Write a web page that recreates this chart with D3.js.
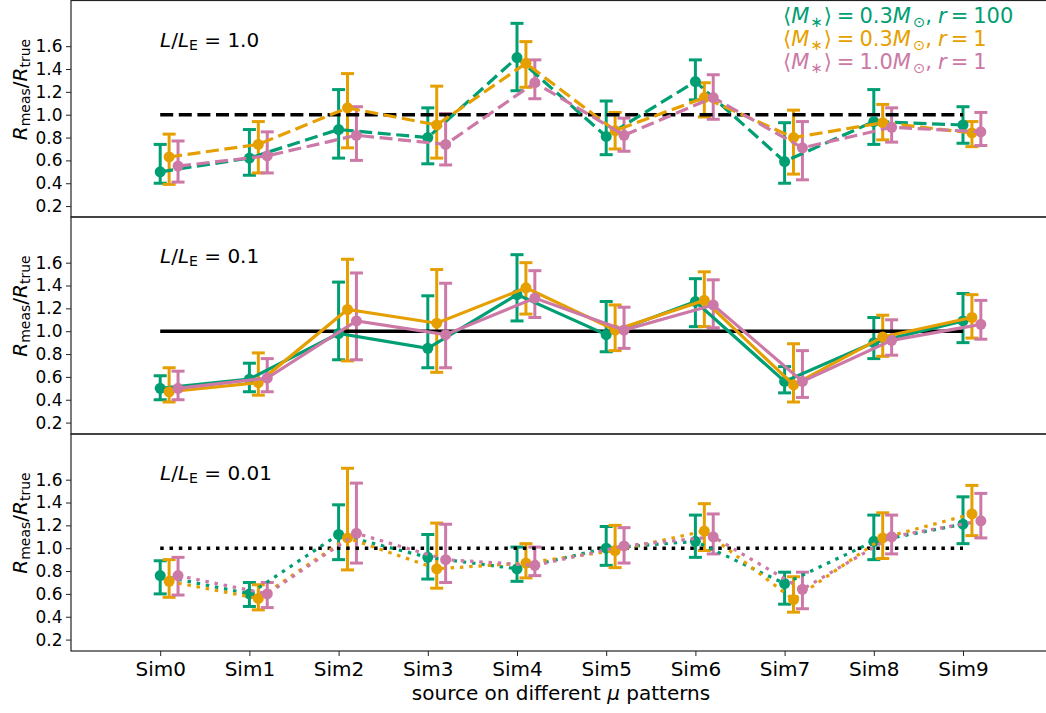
<!DOCTYPE html>
<html><head><meta charset="utf-8">
<script src="https://cdn.jsdelivr.net/npm/d3@7"></script>
<style>body{margin:0;background:#fff} svg{display:block;font-family:"DejaVu Sans",sans-serif}</style>
</head><body>
<svg id="c" width="1046" height="713"></svg>
<script>
// ---------- data ----------
const categories = ["Sim0","Sim1","Sim2","Sim3","Sim4","Sim5","Sim6","Sim7","Sim8","Sim9"];
const yTicks = [0.2,0.4,0.6,0.8,1.0,1.2,1.4,1.6];
const panelRatios = ["1.0","0.1","0.01"];
const seriesMass = ["0.3","0.3","1.0"];
const seriesR = ["100","1","1"];
const seriesColors = ["#009E73","#E69F00","#CC79A7"];
const seriesOffsets = [0, 0.1, 0.2];
const lineStyles = ["dashed","solid","dotted"];

// L/LE = 1.0
const val10_g = [0.50,0.62,0.87,0.80,1.50,0.81,1.29,0.59,0.94,0.91];
const hi10_g  = [0.74,0.87,1.22,1.06,1.80,1.12,1.48,0.93,1.22,1.07];
const lo10_g  = [0.40,0.47,0.62,0.57,1.21,0.65,1.13,0.40,0.74,0.75];
const val10_o = [0.63,0.74,1.06,0.91,1.45,0.86,1.15,0.80,0.93,0.84];
const hi10_o  = [0.83,0.94,1.36,1.25,1.64,1.02,1.28,1.04,1.09,0.94];
const lo10_o  = [0.39,0.49,0.71,0.62,1.24,0.70,0.98,0.48,0.78,0.72];
const val10_p = [0.55,0.64,0.82,0.74,1.28,0.82,1.15,0.71,0.89,0.85];
const hi10_p  = [0.77,0.85,1.07,1.01,1.48,0.97,1.35,0.94,1.06,1.02];
const lo10_p  = [0.41,0.49,0.60,0.56,1.14,0.68,0.96,0.43,0.76,0.73];
// L/LE = 0.1
const val01_g = [0.50,0.58,0.98,0.85,1.32,0.97,1.26,0.56,0.90,1.09];
const hi01_g  = [0.61,0.72,1.43,1.31,1.67,1.26,1.46,0.69,1.12,1.33];
const lo01_g  = [0.40,0.47,0.75,0.68,1.09,0.82,1.04,0.46,0.76,0.90];
const val01_o = [0.47,0.55,1.19,1.07,1.38,1.01,1.27,0.53,0.95,1.12];
const hi01_o  = [0.68,0.81,1.63,1.54,1.60,1.23,1.52,0.89,1.14,1.32];
const lo01_o  = [0.38,0.44,0.74,0.64,1.15,0.83,1.04,0.38,0.78,0.94];
const val01_p = [0.50,0.59,1.09,0.97,1.29,1.01,1.23,0.56,0.92,1.06];
const hi01_p  = [0.65,0.76,1.51,1.42,1.53,1.21,1.45,0.83,1.10,1.27];
const lo01_p  = [0.40,0.47,0.75,0.68,1.12,0.85,1.03,0.42,0.79,0.93];
// L/LE = 0.01
const val001_g = [0.76,0.60,1.12,0.92,0.82,1.00,1.06,0.69,1.06,1.21];
const hi001_g  = [0.89,0.70,1.38,1.12,1.01,1.19,1.29,0.79,1.29,1.45];
const lo001_g  = [0.60,0.49,0.90,0.73,0.71,0.85,0.92,0.51,0.90,1.04];
const val001_o = [0.71,0.56,1.09,0.82,0.87,0.98,1.15,0.55,1.09,1.30];
const hi001_o  = [0.90,0.68,1.70,1.22,1.04,1.20,1.39,0.75,1.31,1.55];
const lo001_o  = [0.57,0.46,0.81,0.65,0.74,0.83,0.98,0.44,0.91,1.11];
const val001_p = [0.76,0.60,1.13,0.90,0.85,1.02,1.10,0.64,1.10,1.24];
const hi001_p  = [0.92,0.70,1.57,1.21,1.01,1.18,1.30,0.79,1.29,1.48];
const lo001_p  = [0.59,0.48,0.87,0.70,0.76,0.87,0.95,0.47,0.95,1.09];

const panels = [
  [[val10_g,lo10_g,hi10_g],[val10_o,lo10_o,hi10_o],[val10_p,lo10_p,hi10_p]],
  [[val01_g,lo01_g,hi01_g],[val01_o,lo01_o,hi01_o],[val01_p,lo01_p,hi01_p]],
  [[val001_g,lo001_g,hi001_g],[val001_o,lo001_o,hi001_o],[val001_p,lo001_p,hi001_p]]
];

// ---------- layout ----------
const svg = d3.select("#c");
const left = 71, step = 89.2;
const panelTops = [0.5, 217, 434];
const panelH = 217;
const x = d3.scaleLinear().domain([-1, 10]).range([left, left + 11*step]);
const dashes = {dashed:"13,5.6", solid:null, dotted:"3.5,5.8"};

function mathText(g, xx, yy, parts, size, color, anchor) {
  const t = g.append("text").attr("x", xx).attr("y", yy)
    .attr("font-size", size).attr("fill", color).attr("text-anchor", anchor || "start");
  let shifted = 0;
  parts.forEach(p => {
    const s = t.append("tspan").text(p.t);
    if (p.i) s.attr("font-style", "italic");
    if (p.dx) s.attr("dx", p.dx);
    const target = p.sub ? size*0.17 : 0;
    if (target !== shifted) { s.attr("dy", target - shifted); shifted = target; }
    if (p.sub) s.attr("font-size", size*0.7);
  });
  return t;
}

panels.forEach((series, pi) => {
  const T = panelTops[pi];
  const y = d3.scaleLinear().domain([0.1, 2.0]).range([T + panelH, T]);
  const g = svg.append("g");
  const style = lineStyles[pi];

  // error bars (beneath)
  series.forEach((s, si) => {
    const [v, lo, hi] = s;
    const col = seriesColors[si];
    const eg = g.append("g").attr("stroke", col).attr("stroke-width", 3).attr("fill", "none");
    v.forEach((d, i) => {
      const xx = x(i + seriesOffsets[si]);
      eg.append("line").attr("x1", xx).attr("x2", xx).attr("y1", y(lo[i])).attr("y2", y(hi[i]));
      [lo[i], hi[i]].forEach(c => {
        eg.append("line").attr("x1", xx - 6.5).attr("x2", xx + 6.5).attr("y1", y(c)).attr("y2", y(c));
      });
    });
  });

  // reference line
  g.append("line").attr("x1", x(0)).attr("x2", x(9)).attr("y1", y(1)).attr("y2", y(1))
    .attr("stroke", "#000").attr("stroke-width", 3.4)
    .attr("stroke-dasharray", dashes[style]);

  // series lines + markers
  series.forEach((s, si) => {
    const [v] = s;
    const col = seriesColors[si];
    const line = d3.line().x((d, i) => x(i + seriesOffsets[si])).y(d => y(d));
    g.append("path").attr("d", line(v)).attr("fill", "none").attr("stroke", col)
      .attr("stroke-width", 3.2).attr("stroke-dasharray", dashes[style]);
    g.selectAll(null).data(v).enter().append("circle")
      .attr("cx", (d, i) => x(i + seriesOffsets[si])).attr("cy", d => y(d))
      .attr("r", 5.5).attr("fill", col);
  });

  // frame
  g.append("rect").attr("x", left).attr("y", T).attr("width", 1100).attr("height", panelH - (pi === 0 ? 0.5 : 0))
    .attr("fill", "none").attr("stroke", "#222").attr("stroke-width", 1.2);

  // y axis
  const ya = g.append("g").attr("transform", `translate(${left},0)`)
    .call(d3.axisLeft(y).tickValues(yTicks).tickFormat(d3.format(".1f")).tickSize(5).tickPadding(3.5));
  ya.select(".domain").remove();
  ya.selectAll("text").attr("font-size", 17).attr("font-family", "DejaVu Sans").attr("fill", "#000");
  ya.selectAll("line").attr("stroke", "#222");

  // y label
  const yl = mathText(g, 0, 0, [
    {t:"R", i:1}, {t:"meas", sub:1}, {t:"/"}, {t:"R", i:1}, {t:"true", sub:1}
  ], 20, "#000", "middle");
  yl.attr("transform", `translate(27,${T + 89}) rotate(-90)`);

  // panel annotation
  mathText(g, 160, T + 46, [
    {t:"L", i:1}, {t:"/"}, {t:"L", i:1}, {t:"E", sub:1}, {t:" = " + panelRatios[pi]}
  ], 20, "#000");

  // x axis for bottom panel
  if (pi === 2) {
    const xa = g.append("g").attr("transform", `translate(0,${T + panelH})`)
      .call(d3.axisBottom(x).tickValues(d3.range(categories.length)).tickFormat(i => categories[i]).tickSize(5).tickPadding(6));
    xa.select(".domain").remove();
    xa.selectAll("text").attr("font-size", 20).attr("font-family", "DejaVu Sans").attr("fill", "#000");
    xa.selectAll("line").attr("stroke", "#222");
  }
});

// x label
mathText(svg, 561, 700, [
  {t:"source on different "}, {t:"μ", i:1}, {t:" patterns"}
], 20, "#000", "middle");

// legend (text-only, coloured)
seriesColors.forEach((col, si) => {
  mathText(svg, 783, 23 + si*23, [
    {t:"⟨"}, {t:"M", i:1}, {t:"∗", sub:1, dx:1}, {t:"⟩", dx:1}, {t:"=", dx:5}, {t:seriesMass[si], dx:5},
    {t:"M", i:1}, {t:"⊙", sub:1, dx:2}, {t:","}, {t:"r", i:1, dx:6}, {t:"=", dx:4}, {t:seriesR[si], dx:5}
  ], 21, col);
});
</script>
</body></html>
